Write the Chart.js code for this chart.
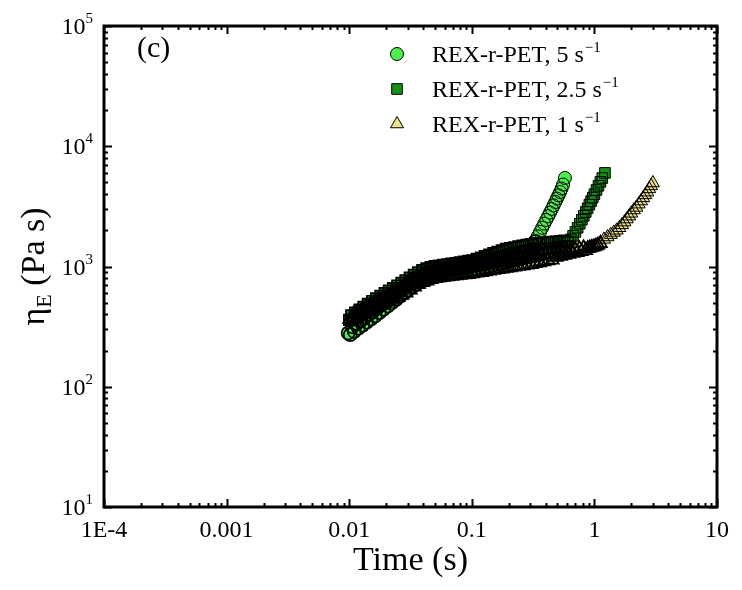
<!DOCTYPE html>
<html>
<head>
<meta charset="utf-8">
<script src="https://cdn.jsdelivr.net/npm/chart.js@4.4.1/dist/chart.umd.min.js"></script>
<style>
  body { margin: 0; background: #fff; }
  canvas { display: block; }
</style>
</head>
<body>
<canvas id="etaChart" width="742" height="590"></canvas>
<script>
// REX-r-PET, 5 s-1 (circles)
const time5 = [0.0098, 0.0102, 0.0106, 0.011, 0.0115, 0.0119, 0.0124, 0.0129, 0.0134, 0.0139,
  0.0145, 0.0151, 0.0157, 0.0163, 0.017, 0.0176, 0.0184, 0.0191, 0.0199, 0.0207,
  0.0215, 0.0223, 0.0232, 0.0242, 0.0251, 0.0261, 0.0272, 0.0283, 0.0294, 0.0306,
  0.0318, 0.0331, 0.0344, 0.0358, 0.0372, 0.0387, 0.0402, 0.0419, 0.0435, 0.0453,
  0.0471, 0.049, 0.0509, 0.053, 0.0551, 0.0573, 0.0596, 0.062, 0.0645, 0.067,
  0.0697, 0.0725, 0.0754, 0.0784, 0.0816, 0.0848, 0.0882, 0.0918, 0.0954, 0.0993,
  0.103, 0.107, 0.112, 0.116, 0.121, 0.126, 0.131, 0.136, 0.141, 0.147,
  0.153, 0.159, 0.165, 0.172, 0.179, 0.186, 0.193, 0.201, 0.209, 0.217,
  0.226, 0.235, 0.244, 0.254, 0.264, 0.275, 0.286, 0.297,
  0.31, 0.32, 0.33, 0.345, 0.36, 0.375, 0.39, 0.405, 0.42, 0.435,
  0.45, 0.465, 0.48, 0.495, 0.51, 0.525, 0.54, 0.555, 0.575];
const eta5 = [280, 271, 315, 288, 335, 306, 355, 324, 377, 344,
  401, 366, 424, 388, 452, 413, 480, 440, 512, 468,
  545, 498, 580, 531, 618, 565, 657, 602, 700, 641,
  745, 680, 787, 714, 824, 745, 856, 773, 885, 796,
  909, 816, 930, 832, 946, 845, 960, 858, 975, 871,
  990, 885, 1005, 898, 1020, 911, 1035, 924, 1049, 937,
  1066, 954, 1085, 971, 1105, 988, 1124, 1005, 1143, 1023,
  1164, 1041, 1184, 1059, 1205, 1078, 1226, 1098, 1251, 1120,
  1276, 1143, 1302, 1166, 1327, 1189, 1354, 1213,
  1390, 1500, 1620, 1780, 1940, 2100, 2270, 2440, 2620, 2810,
  3010, 3220, 3440, 3670, 3910, 4160, 4450, 4800, 5450];

// REX-r-PET, 2.5 s-1 (squares)
const time25 = [0.01, 0.0104, 0.0108, 0.0112, 0.0117, 0.0122, 0.0126, 0.0131, 0.0137, 0.0142,
  0.0148, 0.0154, 0.016, 0.0166, 0.0173, 0.018, 0.0187, 0.0195, 0.0203, 0.0211,
  0.0219, 0.0228, 0.0237, 0.0247, 0.0256, 0.0267, 0.0277, 0.0288, 0.03, 0.0312,
  0.0324, 0.0337, 0.0351, 0.0365, 0.0379, 0.0395, 0.041, 0.0427, 0.0444, 0.0462,
  0.048, 0.0499, 0.0519, 0.054, 0.0562, 0.0584, 0.0608, 0.0632, 0.0657, 0.0684,
  0.0711, 0.0739, 0.0769, 0.08, 0.0832, 0.0865, 0.09, 0.0936, 0.0973, 0.101,
  0.105, 0.11, 0.114, 0.119, 0.123, 0.128, 0.134, 0.139, 0.144, 0.15,
  0.156, 0.162, 0.169, 0.176, 0.183, 0.19, 0.197, 0.205, 0.213, 0.222,
  0.231, 0.24, 0.249, 0.259, 0.27, 0.28, 0.292, 0.303,
  0.315, 0.328, 0.341, 0.355, 0.369, 0.384, 0.399, 0.415, 0.432, 0.449,
  0.467, 0.486, 0.505, 0.525, 0.546, 0.568, 0.59, 0.61,
  0.64, 0.67, 0.7, 0.73, 0.76, 0.79, 0.82, 0.85, 0.88, 0.91,
  0.94, 0.97, 1.0, 1.04, 1.08, 1.12, 1.16, 1.22];
const eta25 = [360, 392, 357, 414, 378, 438, 399, 462, 421, 489,
  445, 516, 470, 543, 494, 570, 519, 599, 544, 630,
  572, 660, 601, 694, 631, 729, 663, 765, 696, 808,
  737, 853, 776, 895, 810, 932, 841, 964, 866, 988,
  885, 1005, 897, 1018, 908, 1030, 919, 1043, 931, 1056,
  942, 1068, 954, 1083, 967, 1098, 980, 1113, 992, 1124,
  1011, 1155, 1039, 1187, 1067, 1220, 1097, 1254, 1127, 1289,
  1158, 1324, 1190, 1361, 1224, 1399, 1250, 1421, 1271, 1444,
  1291, 1467, 1311, 1490, 1332, 1514, 1353, 1537,
  1371, 1553, 1384, 1567, 1395, 1579, 1405, 1590, 1415, 1601,
  1424, 1611, 1434, 1624, 1448, 1643, 1471, 1600,
  1680, 1800, 1940, 2100, 2270, 2450, 2640, 2840, 3050, 3270,
  3500, 3740, 3990, 4330, 4690, 5060, 5440, 6000];

// REX-r-PET, 1 s-1 (triangles)
const time1 = [0.0101, 0.0105, 0.0109, 0.0114, 0.0118, 0.0123, 0.0128, 0.0133, 0.0138, 0.0144,
  0.015, 0.0156, 0.0162, 0.0168, 0.0175, 0.0182, 0.0189, 0.0197, 0.0205, 0.0213,
  0.0221, 0.023, 0.0239, 0.0249, 0.0259, 0.0269, 0.028, 0.0291, 0.0303, 0.0315,
  0.0327, 0.034, 0.0354, 0.0368, 0.0383, 0.0398, 0.0414, 0.0431, 0.0448, 0.0466,
  0.0485, 0.0504, 0.0524, 0.0545, 0.0567, 0.059, 0.0613, 0.0638, 0.0663, 0.069,
  0.0717, 0.0746, 0.0776, 0.0807, 0.0839, 0.0873, 0.0908, 0.0944, 0.0982, 0.102,
  0.106, 0.11, 0.115, 0.12, 0.124, 0.129, 0.135, 0.14, 0.146, 0.151,
  0.157, 0.164, 0.17, 0.177, 0.184, 0.191, 0.199, 0.207, 0.215, 0.224,
  0.233, 0.242, 0.252, 0.262, 0.272, 0.283, 0.294, 0.306,
  0.318, 0.331, 0.344, 0.358, 0.372, 0.387, 0.402, 0.419, 0.435, 0.453,
  0.471, 0.49, 0.509, 0.53, 0.551, 0.573, 0.596, 0.62, 0.645, 0.67,
  0.697, 0.725, 0.754, 0.784, 0.816, 0.848, 0.882, 0.918, 0.954, 0.993,
  1.03, 1.07, 1.12,
  1.2, 1.28, 1.36, 1.44, 1.52, 1.6, 1.68, 1.76, 1.84, 1.92,
  2.0, 2.1, 2.2, 2.3, 2.4, 2.5, 2.6, 2.7, 2.8, 2.9, 3.0];
const eta1 = [365, 351, 405, 368, 424, 384, 444, 403, 464, 422,
  487, 442, 508, 459, 528, 478, 549, 496, 570, 516,
  593, 536, 617, 557, 641, 579, 666, 602, 700, 639,
  742, 676, 781, 709, 816, 737, 845, 760, 869, 780,
  889, 796, 905, 808, 916, 816, 924, 823, 933, 831,
  941, 838, 950, 846, 958, 854, 967, 861, 975, 870,
  989, 883, 1003, 895, 1017, 907, 1030, 919, 1044, 932,
  1058, 944, 1072, 956, 1085, 968, 1099, 980, 1113, 994,
  1127, 1006, 1142, 1018, 1155, 1031, 1169, 1043,
  1185, 1059, 1204, 1077, 1225, 1096, 1247, 1116, 1270, 1137,
  1259, 1197, 1283, 1220, 1308, 1244, 1333, 1267, 1358, 1290,
  1382, 1313, 1407, 1337, 1432, 1360, 1415, 1430, 1446, 1464,
  1484, 1510, 1560,
  1680, 1760, 1840, 1920, 2000, 2100, 2220, 2340, 2480, 2620,
  2770, 2950, 3100, 3300, 3500, 3720, 3940, 4150, 4420, 4680, 4950];

const xTickValues = [1e-4, 1e-3, 1e-2, 1e-1, 1, 10];
const xTickLabels = ['1E-4', '0.001', '0.01', '0.1', '1', '10'];
const yExponents = [1, 2, 3, 4, 5];

const seriesNames = ['REX-r-PET, 5 s', 'REX-r-PET, 2.5 s', 'REX-r-PET, 1 s'];

const serif = "'Liberation Serif', 'Times New Roman', serif";

function toPoints(ts, ys) {
    return ts.map((t, i) => ({ x: t, y: ys[i] }));
}

const series = [
    { label: seriesNames[0], data: toPoints(time5, eta5), pointStyle: 'circle', pointRadius: 6.5, color: '#4cf04c' },
    { label: seriesNames[1], data: toPoints(time25, eta25), pointStyle: 'rect', pointRadius: 7.5, color: '#139313' },
    { label: seriesNames[2], data: toPoints(time1, eta1), pointStyle: 'triangle', pointRadius: 7.5, color: '#ece084' }
];

// marker fills first, then all marker outlines on top (dense data turns black)
const datasets = [];
series.forEach(s => {
    datasets.push({
        label: s.label,
        data: s.data,
        pointStyle: s.pointStyle,
        pointRadius: s.pointRadius,
        backgroundColor: s.color,
        borderColor: 'rgba(0,0,0,0)',
        pointBorderWidth: 0,
        order: 2
    });
});
series.forEach(s => {
    datasets.push({
        label: s.label + ' outline',
        data: s.data,
        pointStyle: s.pointStyle,
        pointRadius: s.pointRadius,
        backgroundColor: 'rgba(0,0,0,0)',
        borderColor: '#000',
        // thinner outlines on the strain-hardening legs so the stacked fills show
        pointBorderWidth: (c) => (c.raw && c.raw.y > 1650 ? 1 : 1.7),
        order: 1
    });
});

// frame, inward ticks, y labels, axis titles and legend
const decorations = {
    id: 'decorations',
    afterDraw(chart) {
        const ctx = chart.ctx;
        const a = chart.chartArea;
        const xs = chart.scales.x;
        const ys = chart.scales.y;
        ctx.save();
        ctx.strokeStyle = '#000';
        ctx.fillStyle = '#000';

        // x ticks (bottom and top)
        ctx.lineWidth = 2;
        for (let d = -4; d <= 0; d++) {
            for (let m = 1; m <= 10; m++) {
                if (m === 10 && d < 0) continue;
                const v = m * Math.pow(10, d);
                const px = Math.round(xs.getPixelForValue(v)) + 0.5;
                const len = (m === 1 || m === 10) ? 8 : 4;
                ctx.beginPath();
                ctx.moveTo(px, a.bottom);
                ctx.lineTo(px, a.bottom - len);
                ctx.moveTo(px, a.top);
                ctx.lineTo(px, a.top + len);
                ctx.stroke();
            }
        }
        // y ticks (left and right)
        for (let d = 1; d <= 4; d++) {
            for (let m = 1; m <= 10; m++) {
                if (m === 10 && d < 4) continue;
                const v = m * Math.pow(10, d);
                const py = Math.round(ys.getPixelForValue(v)) + 0.5;
                const len = (m === 1 || m === 10) ? 8 : 4;
                ctx.beginPath();
                ctx.moveTo(a.left, py);
                ctx.lineTo(a.left + len, py);
                ctx.moveTo(a.right, py);
                ctx.lineTo(a.right - len, py);
                ctx.stroke();
            }
        }
        ctx.lineWidth = 3;
        ctx.strokeRect(a.left, a.top, a.right - a.left, a.bottom - a.top);

        // y tick labels 10^n
        yExponents.forEach(e => {
            const py = ys.getPixelForValue(Math.pow(10, e));
            ctx.font = '15px ' + serif;
            const ew = ctx.measureText(String(e)).width;
            ctx.textAlign = 'left';
            ctx.textBaseline = 'alphabetic';
            const right = a.left - 11;
            ctx.fillText(String(e), right - ew, py - 3);
            ctx.font = '24px ' + serif;
            const bw = ctx.measureText('10').width;
            ctx.fillText('10', right - ew - bw, py + 8);
        });

        // x title
        ctx.font = '34px ' + serif;
        ctx.textAlign = 'center';
        ctx.fillText('Time (s)', (a.left + a.right) / 2, 570);

        // y title with subscript E
        ctx.save();
        ctx.translate(44, (a.top + a.bottom) / 2);
        ctx.rotate(-Math.PI / 2);
        ctx.textAlign = 'left';
        ctx.font = '34px ' + serif;
        const w1 = ctx.measureText('\u03B7').width;
        const w3 = ctx.measureText(' (Pa s)').width;
        ctx.font = '22px ' + serif;
        const w2 = ctx.measureText('E').width;
        let x0 = -(w1 + w2 + w3) / 2;
        ctx.font = '34px ' + serif;
        ctx.fillText('\u03B7', x0, 0);
        ctx.font = '22px ' + serif;
        ctx.fillText('E', x0 + w1, 7);
        ctx.font = '34px ' + serif;
        ctx.fillText(' (Pa s)', x0 + w1 + w2, 0);
        ctx.restore();

        // panel label
        ctx.font = '30px ' + serif;
        ctx.textAlign = 'left';
        ctx.fillText('(c)', 137, 57);

        // legend
        const rowsY = [54, 89, 124];
        series.forEach((s, i) => {
            const my = rowsY[i];
            ctx.fillStyle = s.color;
            ctx.strokeStyle = '#000';
            ctx.lineWidth = 1;
            Chart.helpers.drawPoint(ctx, {
                pointStyle: s.pointStyle,
                radius: s.pointRadius,
                rotation: 0,
                borderWidth: 1
            }, 397, my);
            ctx.fillStyle = '#000';
            ctx.font = '24px ' + serif;
            ctx.textAlign = 'left';
            ctx.fillText(s.label, 432, my + 8);
            const tw = ctx.measureText(s.label).width;
            ctx.font = '15px ' + serif;
            ctx.fillText('\u22121', 432 + tw + 1, my - 2);
        });
        ctx.restore();
    }
};

const ctx = document.getElementById('etaChart').getContext('2d');
const etaChart = new Chart(ctx, {
    type: 'scatter',
    data: { datasets: datasets },
    options: {
        responsive: false,
        animation: false,
        layout: { padding: { top: 26, right: 25, left: 0, bottom: 0 } },
        plugins: {
            legend: { display: false },
            tooltip: { enabled: false }
        },
        scales: {
            x: {
                type: 'logarithmic',
                min: 1e-4,
                max: 10,
                grid: { display: false, drawTicks: false },
                border: { display: false },
                ticks: {
                    padding: 9,
                    color: '#000',
                    font: { family: serif, size: 24 },
                    maxRotation: 0,
                    callback: (v) => {
                        const i = xTickValues.findIndex(t => Math.abs(t - v) / t < 1e-6);
                        return i >= 0 ? xTickLabels[i] : '';
                    }
                },
                afterBuildTicks: (scale) => {
                    scale.ticks = xTickValues.map(v => ({ value: v, major: true }));
                },
                afterFit: (scale) => { scale.height = 83; }
            },
            y: {
                type: 'logarithmic',
                min: 10,
                max: 1e5,
                grid: { display: false, drawTicks: false },
                border: { display: false },
                ticks: { display: false },
                afterBuildTicks: (scale) => {
                    scale.ticks = yExponents.map(e => ({ value: Math.pow(10, e), major: true }));
                },
                afterFit: (scale) => { scale.width = 104; }
            }
        }
    },
    plugins: [decorations]
});
</script>
</body>
</html>
